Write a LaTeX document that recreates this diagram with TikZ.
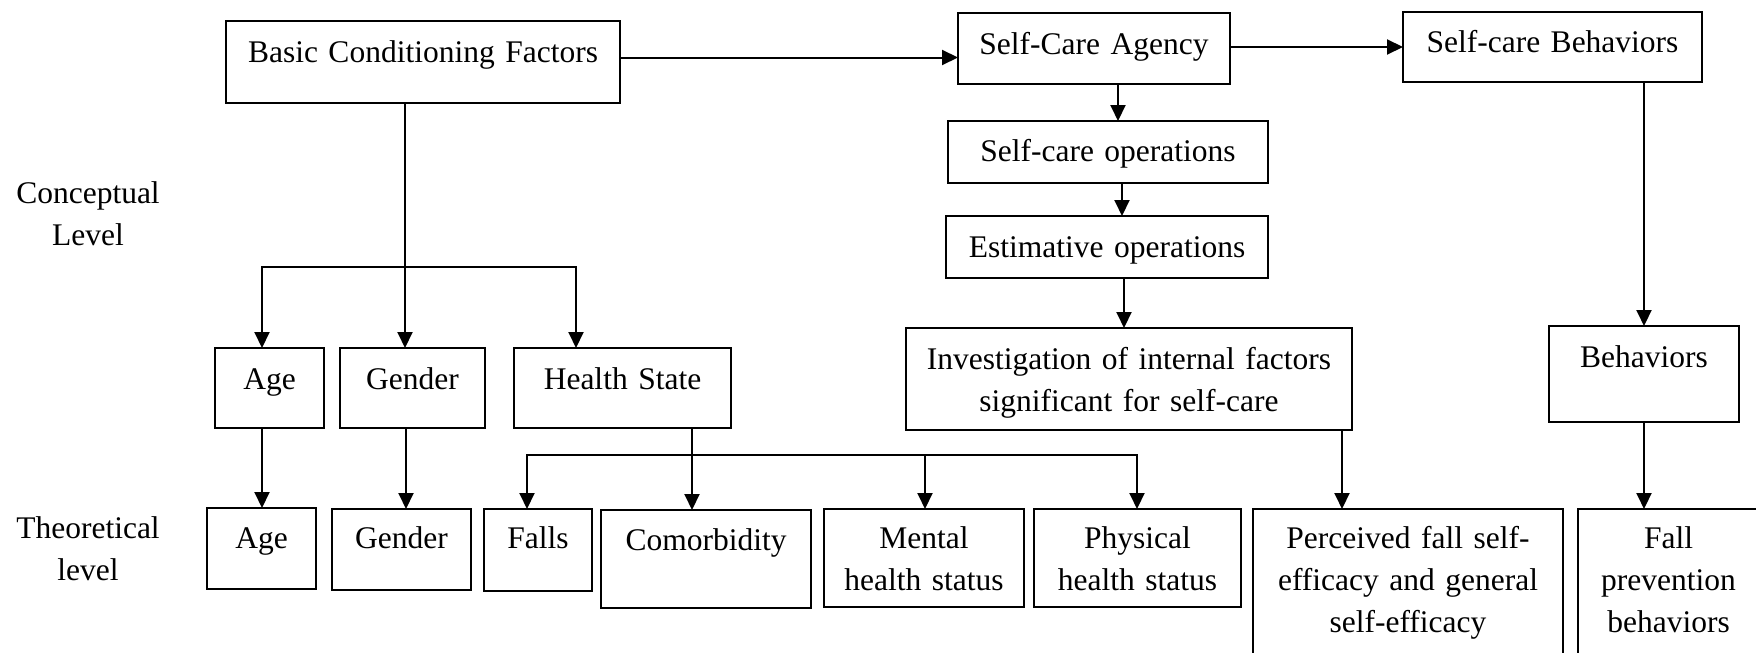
\documentclass[tikz,border=0pt]{standalone}
\usepackage{fontspec}
\setmainfont{Liberation Serif}
\usetikzlibrary{arrows.meta,calc}

\newcommand\diagfont{\fontsize{31.5pt}{42pt}\selectfont}

\tikzset{
  box/.style={draw, line width=2pt, inner sep=0pt, outer sep=0pt,
              align=center, anchor=base, font=\diagfont},
  lvl/.style={inner sep=0pt, align=center, anchor=base, font=\diagfont, text width=170pt},
  arr/.style={line width=2pt, -{Triangle[length=16pt, width=15pt]}},
}

\begin{document}
\begin{tikzpicture}[x=1pt, y=-1pt]
\useasboundingbox (0,0) rectangle (1756,653);
\fill[white] (0,0) rectangle (1756,653);

% level labels
\node[lvl] (conc) at (88,203) {Conceptual\\Level};
\node[lvl] (theo) at (88,538) {Theoretical\\level};

% conceptual level
\node[box, text width=394pt, text height=41pt, text depth=41pt] (bcf) at (423,62) {Basic Conditioning Factors};
\node[box, text width=272pt, text height=41pt, text depth=30pt] (sca) at (1094,54) {Self-Care Agency};
\node[box, text width=299pt, text height=40pt, text depth=30pt] (scb) at (1552.5,52) {Self-care Behaviors};
\node[box, text width=320pt, text height=40pt, text depth=22pt] (sop) at (1108,161) {Self-care operations};
\node[box, text width=322pt, text height=41pt, text depth=21pt] (eop) at (1107,257) {Estimative operations};
\node[box, text width=446pt, text height=41pt, text depth=61pt] (inv) at (1129,369) {Investigation of internal factors\\significant for self-care};
\node[box, text width=190pt, text height=41pt, text depth=55pt] (beh) at (1644,367) {Behaviors};
\node[box, text width=109pt, text height=41pt, text depth=39pt] (age1) at (269.5,389) {Age};
\node[box, text width=145pt, text height=41pt, text depth=39pt] (gen1) at (412.5,389) {Gender};
\node[box, text width=217pt, text height=41pt, text depth=39pt] (hs) at (622.5,389) {Health State};

% theoretical level
\node[box, text width=109pt, text height=40pt, text depth=41pt] (age2) at (261.5,548) {Age};
\node[box, text width=139pt, text height=39pt, text depth=42pt] (gen2) at (401.5,548) {Gender};
\node[box, text width=108pt, text height=39pt, text depth=43pt] (falls) at (538,548) {Falls};
\node[box, text width=210pt, text height=40pt, text depth=58pt] (com) at (706,550) {Comorbidity};
\node[box, text width=200pt, text height=39pt, text depth=59pt] (men) at (924,548) {Mental\\health status};
\node[box, text width=207pt, text height=39pt, text depth=59pt] (phy) at (1137.5,548) {Physical\\health status};
\node[box, text width=310pt, text height=39pt, text depth=122pt] (per) at (1408,548) {Perceived fall self-\\efficacy and general\\self-efficacy};
\node[box, text width=181pt, text height=39pt, text depth=122pt] (fpb) at (1668.5,548) {Fall\\prevention\\behaviors};

% top row flow
\draw[arr] ($(bcf.east)+(0,-4.5)$) -- ($(sca.west)+(0,9)$);
\draw[arr] ($(sca.east)+(0,-1.5)$) -- (scb.west);
\draw[arr] ($(sca.south)+(24,0)$) -- ($(sop.north)+(10,0)$);
\draw[arr] ($(sop.south)+(14,0)$) -- ($(eop.north)+(15,0)$);
\draw[arr] ($(eop.south)+(17,0)$) -- ($(inv.north)+(-5,0)$);
\draw[arr] ($(scb.south)+(91.5,0)$) -- (beh.north);

% basic conditioning factors branch
\draw[arr] ($(bcf.south)+(-18,0)$) -- ($(gen1.north)+(-7.5,0)$);
\draw[arr] ($(bcf.south)+(-18,164)$) -| ($(age1.north)+(-7.5,0)$);
\draw[arr] ($(bcf.south)+(-18,164)$) -| ($(hs.north)+(-46.5,0)$);

% conceptual to theoretical
\draw[arr] ($(age1.south)+(-7.5,0)$) -- ($(age2.north)+(0.5,0)$);
\draw[arr] ($(gen1.south)+(-6.5,0)$) -- ($(gen2.north)+(4.5,0)$);
\draw[arr] ($(hs.south)+(69.5,0)$) -- ($(com.north)+(-14,0)$);
\draw[arr] ($(hs.south)+(69.5,27)$) -| ($(falls.north)+(-11,0)$);
\draw[arr] ($(hs.south)+(69.5,27)$) -| ($(men.north)+(1,0)$);
\draw[arr] ($(hs.south)+(69.5,27)$) -| ($(phy.north)+(-0.5,0)$);
\draw[arr] ($(inv.south)+(213,0)$) -- ($(per.north)+(-66,0)$);
\draw[arr] (beh.south) -- ($(fpb.north)+(-24.5,0)$);
\end{tikzpicture}
\end{document}
